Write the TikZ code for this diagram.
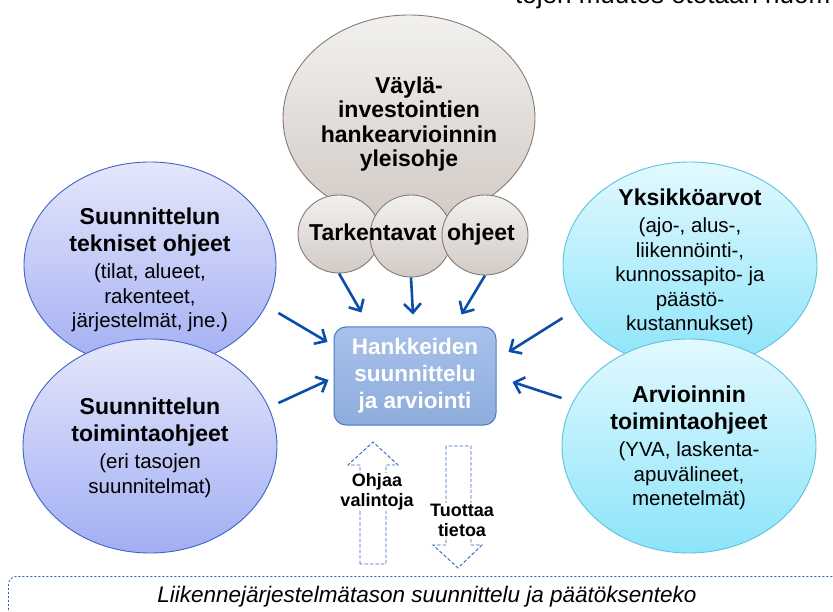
\documentclass[tikz,border=0pt]{standalone}
\usepackage{fontspec}
\setmainfont{Liberation Sans}
\usetikzlibrary{shapes.geometric}
\usetikzlibrary{arrows.meta}

\definecolor{lilatop}{HTML}{E4E7FB}
\definecolor{lilabot}{HTML}{A2AEF3}
\definecolor{lilaline}{HTML}{3F63C6}
\definecolor{cyantop}{HTML}{E2F9FE}
\definecolor{cyanbot}{HTML}{8CE4FA}
\definecolor{cyanline}{HTML}{5AC3DE}
\definecolor{greytop}{HTML}{F2F1EF}
\definecolor{greybot}{HTML}{D2CAC5}
\definecolor{greyline}{HTML}{867B74}
\definecolor{boxtop}{HTML}{A8C1EA}
\definecolor{boxbot}{HTML}{8EACDC}
\definecolor{boxline}{HTML}{4B78C4}
\definecolor{arrowblue}{HTML}{0B4DAA}
\definecolor{dashblue}{HTML}{2F62C8}

\newcommand{\hd}[1]{{\fontsize{23}{27}\selectfont\bfseries #1}}

\tikzset{
  blob/.style={ellipse, inner sep=0pt, line width=0.9pt},
  lila/.style={blob, draw=lilaline, top color=lilatop, bottom color=lilabot},
  syaani/.style={blob, draw=cyanline, top color=cyantop, bottom color=cyanbot},
  harmaa/.style={blob, draw=greyline, top color=greytop, bottom color=greybot},
  txt/.style={align=center, inner sep=0pt, font=\fontsize{20.5}{24.5}\selectfont},
  flow/.style={draw=arrowblue, line width=2.6pt, -{Straight Barb[length=9pt,width=17pt]}},
  hollow/.style={draw=dashblue, line width=0.9pt, dash pattern=on 3.5pt off 2pt},
  lbl/.style={fill=white, inner sep=1pt, align=center, font=\fontsize{18}{20}\selectfont\bfseries}
}

\begin{document}
\begin{tikzpicture}[x=1pt,y=-1pt]
        \useasboundingbox (0,0) rectangle (833,612);
        \clip (0,0) rectangle (833,612);
        %cut title
        \node[anchor=base west, inner sep=0pt, font=\fontsize{26}{30}\selectfont] (otsikko) at (515,4) {tojen muutos otetaan huom};

        %top bubbles
        \node[harmaa, minimum width=252pt, minimum height=206pt] (yleis) at (409,118) {};
        \node[harmaa, minimum width=82pt, minimum height=78pt] (tk1) at (339,234) {};
        \node[harmaa, minimum width=82pt, minimum height=82pt] (tk2) at (411,236) {};
        \node[harmaa, minimum width=86pt, minimum height=80pt] (tk3) at (485,235) {};
        \node[txt] (yleist) at (409,124) {\hd{Väylä-}\\\hd{investointien}\\\hd{hankearvioinnin}\\\hd{yleisohje}};
        \node[txt] (tkt) at (412,235) {\hd{Tarkentavat\hspace{4pt} ohjeet}};

        %left bubbles
        \node[lila, minimum width=252pt, minimum height=206pt] (su1) at (150,265) {};
        \node[lila, minimum width=254pt, minimum height=214pt] (su2) at (150,446) {};
        \node[txt] (su1t) at (150,270) {\hd{Suunnittelun}\\[2.5pt]\hd{tekniset ohjeet}\\[2.5pt](tilat, alueet,\\rakenteet,\\järjestelmät, jne.)};
        \node[txt] (su2t) at (150,448) {\hd{Suunnittelun}\\[2.5pt]\hd{toimintaohjeet}\\[2.5pt](eri tasojen\\suunnitelmat)};

        %right bubbles
        \node[syaani, minimum width=254pt, minimum height=206pt] (yk) at (690,265) {};
        \node[syaani, minimum width=254pt, minimum height=214pt] (ar) at (689,446) {};
        \node[txt] (ykt) at (690,262) {\hd{Yksikköarvot}\\[3pt](ajo-, alus-,\\liikennöinti-,\\kunnossapito- ja\\päästö-\\kustannukset)};
        \node[txt] (art) at (689,448) {\hd{Arvioinnin}\\[2.5pt]\hd{toimintaohjeet}\\[2.5pt](YVA, laskenta-\\apuvälineet,\\menetelmät)};

        %centre box
        \node[draw=boxline, line width=1pt, top color=boxtop, bottom color=boxbot, rounded corners=12pt,
              minimum width=162pt, minimum height=98pt, align=center, text=white,
              font=\fontsize{22.5}{27}\selectfont\bfseries] (hk) at (415,376) {Hankkeiden\\suunnittelu\\ja arviointi};

        %arrows in
        \draw[flow] (tk1.south) -- ([xshift=28pt,yshift=14pt]hk.north west);
        \draw[flow] (tk2.south) -- ([xshift=-2pt,yshift=12pt]hk.north);
        \draw[flow] (tk3.south) -- ([xshift=-35pt,yshift=12pt]hk.north east);
        \draw[flow] ([xshift=2pt,yshift=-48pt]su1.east) -- ([xshift=-6pt,yshift=34pt]hk.west);
        \draw[flow] ([xshift=1pt,yshift=43pt]su2.east) -- ([xshift=-5pt,yshift=-4pt]hk.west);
        \draw[flow] ([yshift=-53pt]yk.west) -- ([xshift=12pt,yshift=24pt]hk.east);
        \draw[flow] ([yshift=48pt]ar.west) -- ([xshift=16pt,yshift=-6pt]hk.east);

        %hollow arrows
        \draw[hollow] (360,564) -- (360,465) -- (348,465) -- (373,442) -- (398,465) -- (386,465) -- (386,564) -- cycle;
        \draw[hollow] (446,446) -- (446,545) -- (433,545) -- (458,568) -- (482,545) -- (471,545) -- (471,446) -- cycle;
        \node[lbl] (ohjaa) at (377,492) {Ohjaa\\valintoja};
        \node[lbl] (tuottaa) at (462,520) {Tuottaa\\tietoa};

        %bottom frame
        \node[draw=dashblue, line width=0.9pt, dash pattern=on 2pt off 2pt, rounded corners=8pt,
              anchor=north west, minimum width=860pt, minimum height=80pt] (ljbox) at (8,576) {};
        \node[inner sep=0pt, font=\fontsize{22.5}{26}\selectfont\itshape] (ljt) at (427,597) {Liikennejärjestelmätason suunnittelu ja päätöksenteko};
\end{tikzpicture}
\end{document}
